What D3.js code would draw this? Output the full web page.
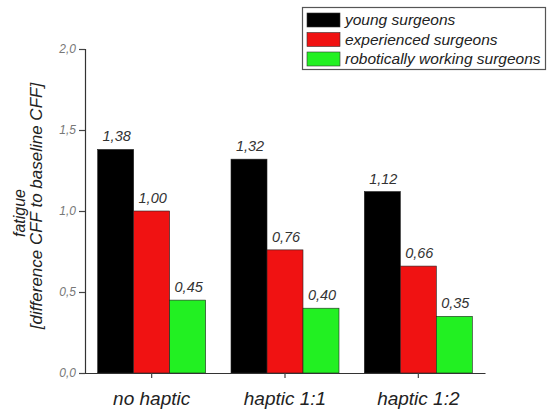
<!DOCTYPE html>
<html><head><meta charset="utf-8">
<script src="https://cdn.jsdelivr.net/npm/d3@7"></script>
<style>
body{margin:0;background:#fff;}
text{font-family:"Liberation Sans",Arial,sans-serif;font-style:italic;}
</style></head>
<body><svg id="c" width="547" height="409"></svg>
<script>
const categories = ["no haptic", "haptic 1:1", "haptic 1:2"];
const seriesNames = ["young surgeons", "experienced surgeons", "robotically working surgeons"];
const young = [1.38, 1.32, 1.12];
const experienced = [1.00, 0.76, 0.66];
const robotic = [0.45, 0.40, 0.35];
const valueLabels = [["1,38","1,32","1,12"],["1,00","0,76","0,66"],["0,45","0,40","0,35"]];
const yTicks = [0, 0.5, 1.0, 1.5, 2.0];
const colors = ["#000000", "#f01212", "#22f022"];

const series = [young, experienced, robotic];
const svg = d3.select("#c");
const x0 = d3.scaleBand().domain(categories).range([85, 485]).paddingInner(0.19).paddingOuter(0.095);
const x1 = d3.scaleBand().domain(d3.range(3)).range([0, x0.bandwidth()]);
const y = d3.scaleLinear().domain([0, 2]).range([373, 49]);

// bars
categories.forEach((c, ci) => {
  series.forEach((s, si) => {
    const bx = x0(c) + x1(si);
    svg.append("rect")
      .attr("x", bx).attr("y", y(s[ci]))
      .attr("width", x1.bandwidth()).attr("height", y(0) - y(s[ci]))
      .attr("fill", colors[si]).attr("stroke", "#222").attr("stroke-width", 0.6);
    svg.append("text")
      .attr("x", bx + x1.bandwidth() / 2 + 1).attr("y", y(s[ci]) - 8)
      .attr("text-anchor", "middle").attr("font-size", 14.5).attr("fill", "#333")
      .text(valueLabels[si][ci]);
  });
});

// y axis
const ya = svg.append("g").attr("transform", "translate(85,0)")
  .call(d3.axisLeft(y).tickValues(yTicks).tickSize(6).tickPadding(3)
    .tickFormat(d => d3.format(".1f")(d).replace(".", ",")));
ya.select(".domain").attr("stroke", "#333").attr("stroke-width", 1.2);
ya.selectAll(".tick line").attr("stroke", "#444").attr("stroke-width", 1.2);
ya.selectAll(".tick text").attr("font-size", 12).attr("fill", "#777")
  .style("font-family", '"Liberation Sans",Arial,sans-serif').style("font-style", "italic");

// x axis
const xa = svg.append("g").attr("transform", "translate(0,373)")
  .call(d3.axisBottom(x0).tickSize(5).tickSizeOuter(0).tickPadding(14));
xa.select(".domain").attr("stroke", "#333").attr("stroke-width", 1.2);
xa.selectAll(".tick line").attr("stroke", "#444").attr("stroke-width", 1.2);
xa.selectAll(".tick text").attr("font-size", 19).attr("fill", "#222")
  .style("font-family", '"Liberation Sans",Arial,sans-serif').style("font-style", "italic");

// y title
svg.append("text").attr("transform", "translate(25,213) rotate(-90)")
  .attr("text-anchor", "middle").attr("font-size", 16).attr("fill", "#222").text("fatigue");
svg.append("text").attr("transform", "translate(42,206) rotate(-90)")
  .attr("text-anchor", "middle").attr("font-size", 17).attr("fill", "#222").text("[difference CFF to baseline CFF]");

// legend
const lg = svg.append("g");
lg.append("rect").attr("x", 302.5).attr("y", 7.5).attr("width", 243).attr("height", 62)
  .attr("fill", "#fff").attr("stroke", "#555").attr("stroke-width", 1.2);
seriesNames.forEach((n, i) => {
  lg.append("rect").attr("x", 307).attr("y", 13 + i * 19.5).attr("width", 33).attr("height", 14)
    .attr("fill", colors[i]).attr("stroke", "#333").attr("stroke-width", 0.6);
  lg.append("text").attr("x", 345).attr("y", 25 + i * 19.5)
    .attr("font-size", 15.5).attr("fill", "#222").text(n);
});
</script></body></html>
